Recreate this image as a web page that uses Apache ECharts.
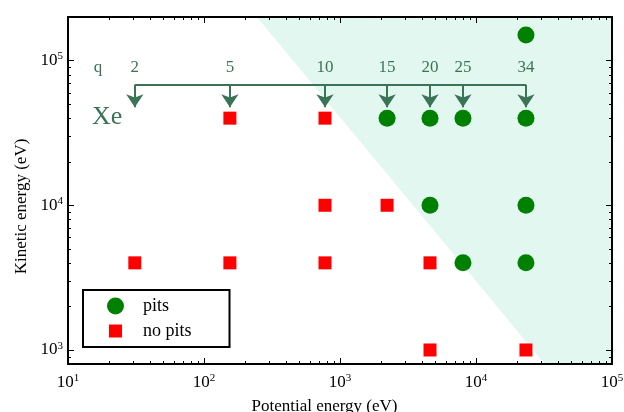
<!DOCTYPE html>
<html>
<head>
<meta charset="utf-8">
<script src="https://cdn.jsdelivr.net/npm/echarts@6/dist/echarts.min.js"></script>
<style>
  html, body { margin: 0; padding: 0; background: #fff; }
  #chart { width: 624px; height: 412px; }
</style>
</head>
<body>
<div id="chart"></div>
<script>
// Xe charge states and their total potential energy (eV)
const chargeStates = [2, 5, 10, 15, 20, 25, 34];
const potentialEnergy = [31, 155, 776, 2220, 4590, 8020, 23300];

// Observations: [charge state q, kinetic energy (eV)]
const pitsObserved = [
  [15, 40000], [20, 40000], [25, 40000], [34, 40000], [34, 150000],
  [20, 10000], [34, 10000], [25, 4000], [34, 4000]
];
const noPitsObserved = [
  [5, 40000], [10, 40000], [10, 10000], [15, 10000],
  [2, 4000], [5, 4000], [10, 4000], [20, 4000],
  [20, 1000], [34, 1000]
];

// Region where pits form: corners as [potential, kinetic]
const pitRegion = [[245, 200000], [100000, 200000], [100000, 800], [32000, 800]];

// Axis extents
const xRange = [10, 100000];
const yRange = [800, 200000];

// Annotation heights (kinetic energy scale)
const bracketLevel = 68000;
const arrowTipLevel = 47500;
const chargeLabelLevel = 89000;

const FONT = '"Liberation Serif", "DejaVu Serif", serif';
const ANNO = '#3b7357';

const peOf = q => potentialEnergy[chargeStates.indexOf(q)];
const toPoints = list => list.map(([q, k]) => [peOf(q), k]);

function powerLabel(v) {
  const e = Math.round(Math.log10(v));
  if (Math.abs(Math.pow(10, e) - v) / v > 1e-6) return '';
  return '{b|10}{s|' + e + '}';
}
const labelRich = {
  b: { fontSize: 17, fontFamily: FONT, color: '#000', lineHeight: 19 },
  s: { fontSize: 11, fontFamily: FONT, color: '#000', verticalAlign: 'top', lineHeight: 19 }
};

function minorValues(lo, hi) {
  const out = [];
  for (let k = Math.floor(Math.log10(lo)); k <= Math.ceil(Math.log10(hi)); k++) {
    for (let d = 2; d <= 9; d++) {
      const v = d * Math.pow(10, k);
      if (v > lo && v < hi) out.push(v);
    }
  }
  return out;
}

const chart = echarts.init(document.getElementById('chart'), null, { renderer: 'canvas' });

const axisLineStyle = { lineStyle: { color: '#000', width: 2 } };
const axisTickStyle = { inside: true, length: 6, lineStyle: { color: '#000', width: 1 } };

chart.setOption({
  animation: false,
  backgroundColor: '#fff',
  grid: { left: 68, right: 12, top: 17, bottom: 48, containLabel: false, outerBoundsMode: 'none' },
  legend: {
    orient: 'vertical',
    left: 83,
    top: 290,
    data: [
      { name: 'pits', icon: 'circle' },
      { name: 'no pits', icon: 'path://M0,0M17,17M2,2h13v13h-13z' }
    ],
    itemWidth: 17,
    itemHeight: 17,
    itemGap: 7,
    padding: [7, 38, 7, 24],
    borderColor: '#000',
    borderWidth: 2,
    backgroundColor: '#fff',
    textStyle: { fontFamily: FONT, fontSize: 18, color: '#000', padding: [0, 0, 0, 14] }
  },
  xAxis: [
    {
      type: 'log', logBase: 10, min: xRange[0], max: xRange[1],
      name: 'Potential energy (eV)', nameLocation: 'middle', nameGap: 34,
      nameTextStyle: { fontFamily: FONT, fontSize: 17, color: '#000', padding: [0, 31, 0, 0] },
      axisLine: axisLineStyle, axisTick: axisTickStyle,
      splitLine: { show: false },
      axisLabel: { formatter: powerLabel, rich: labelRich, margin: 9 }
    },
    {
      type: 'log', logBase: 10, min: xRange[0], max: xRange[1], position: 'top',
      axisLine: axisLineStyle, axisTick: axisTickStyle,
      splitLine: { show: false }, axisLabel: { show: false }
    }
  ],
  yAxis: [
    {
      type: 'log', logBase: 10, min: yRange[0], max: yRange[1],
      name: 'Kinetic energy (eV)', nameLocation: 'middle', nameGap: 38,
      nameTextStyle: { fontFamily: FONT, fontSize: 17, color: '#000', padding: [0, 32, 0, 0] },
      axisLine: axisLineStyle, axisTick: axisTickStyle,
      splitLine: { show: false },
      axisLabel: { formatter: powerLabel, rich: labelRich, margin: 5 }
    },
    {
      type: 'log', logBase: 10, min: yRange[0], max: yRange[1], position: 'right',
      axisLine: axisLineStyle, axisTick: axisTickStyle,
      splitLine: { show: false }, axisLabel: { show: false }
    }
  ],
  series: [
    {
      // shaded pit-formation region
      type: 'custom',
      name: 'region',
      silent: true,
      z: 0,
      data: [0],
      renderItem: (params, api) => ({
        type: 'polygon',
        shape: { points: pitRegion.map(p => api.coord(p)) },
        style: { fill: '#e2f7f0' }
      })
    },
    {
      // minor ticks on all four sides
      type: 'custom',
      name: 'minor',
      silent: true,
      z: 5,
      clip: false,
      data: [0],
      renderItem: (params, api) => {
        const cs = params.coordSys;
        const children = [];
        const style = { stroke: '#000', lineWidth: 1 };
        minorValues(xRange[0], xRange[1]).forEach(v => {
          const px = Math.round(api.coord([v, yRange[0]])[0]) + 0.5;
          children.push({ type: 'line', shape: { x1: px, y1: cs.y + cs.height, x2: px, y2: cs.y + cs.height - 3 }, style });
          children.push({ type: 'line', shape: { x1: px, y1: cs.y, x2: px, y2: cs.y + 3 }, style });
        });
        minorValues(yRange[0], yRange[1]).forEach(v => {
          const py = Math.round(api.coord([xRange[0], v])[1]) + 0.5;
          children.push({ type: 'line', shape: { x1: cs.x, y1: py, x2: cs.x + 3, y2: py }, style });
          children.push({ type: 'line', shape: { x1: cs.x + cs.width, y1: py, x2: cs.x + cs.width - 3, y2: py }, style });
        });
        return { type: 'group', children };
      }
    },
    {
      name: 'pits',
      type: 'scatter',
      symbol: 'circle',
      symbolSize: 17,
      itemStyle: { color: '#008000', opacity: 1 },
      z: 4,
      data: toPoints(pitsObserved)
    },
    {
      name: 'no pits',
      type: 'scatter',
      symbol: 'rect',
      symbolSize: 13,
      itemStyle: { color: '#ff0000', opacity: 1 },
      z: 4,
      data: toPoints(noPitsObserved)
    },
    {
      // bracket linking charge states
      type: 'lines',
      coordinateSystem: 'cartesian2d',
      silent: true,
      z: 3,
      lineStyle: { color: ANNO, width: 2, opacity: 1 },
      data: [{ coords: [[peOf(chargeStates[0]), bracketLevel], [peOf(chargeStates[chargeStates.length - 1]), bracketLevel]] }]
    },
    {
      // arrows down to each charge state
      type: 'lines',
      coordinateSystem: 'cartesian2d',
      silent: true,
      z: 3,
      symbol: ['none', 'arrow'],
      symbolSize: [9, 13],
      lineStyle: { color: ANNO, width: 2, opacity: 1 },
      data: chargeStates.map(q => ({ coords: [[peOf(q), bracketLevel], [peOf(q), arrowTipLevel]] }))
    },
    {
      // charge-state labels
      type: 'scatter',
      silent: true,
      symbolSize: 0,
      z: 3,
      itemStyle: { opacity: 1 },
      label: {
        show: true, position: 'inside', formatter: p => p.data[2],
        fontFamily: FONT, fontSize: 17, color: ANNO
      },
      data: chargeStates.map(q => [peOf(q), chargeLabelLevel, String(q)])
        .concat([[16.6, chargeLabelLevel, 'q']])
    },
    {
      // ion species label
      type: 'scatter',
      silent: true,
      symbolSize: 0,
      z: 3,
      itemStyle: { opacity: 1 },
      label: {
        show: true, position: 'inside', formatter: p => p.data[2],
        fontFamily: FONT, fontSize: 26, color: ANNO
      },
      data: [[19.4, 40500, 'Xe']]
    }
  ]
});
</script>
</body>
</html>
